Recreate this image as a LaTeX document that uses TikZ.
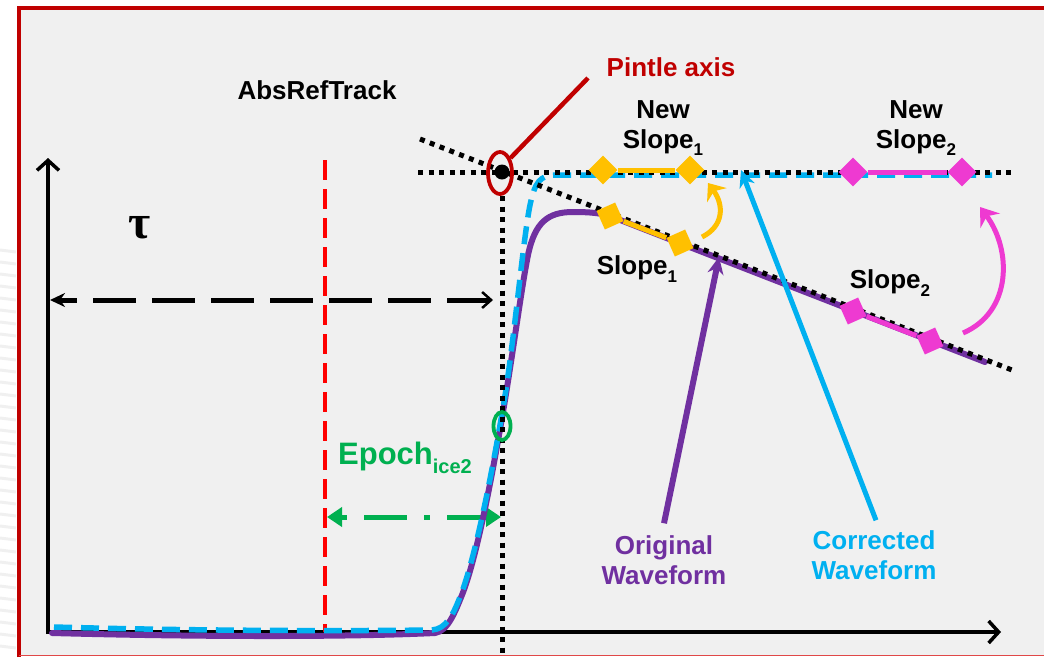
\documentclass[tikz,border=0pt]{standalone}
\usepackage{fontspec}
\setmainfont{Liberation Sans}
\newfontfamily\serifb{Liberation Serif}
\usetikzlibrary{arrows.meta,shapes.geometric}
\definecolor{framec}{HTML}{C00000}
\definecolor{bgc}{HTML}{F0F0F0}
\definecolor{purp}{HTML}{7030A0}
\definecolor{cblue}{HTML}{00B0F0}
\definecolor{orng}{HTML}{FFC000}
\definecolor{mag}{HTML}{EE3AD1}
\definecolor{grn}{HTML}{00B050}
\definecolor{redl}{HTML}{FF0000}
\definecolor{botred}{HTML}{E04848}
\newcommand{\sbs}[2][17]{\raisebox{-0.28em}{\fontsize{#1}{#1}\selectfont #2}}
\begin{document}
\begin{tikzpicture}[x=1pt,y=-1pt,
  lbl/.style={font=\fontsize{26}{30}\selectfont\bfseries, align=center, inner sep=0pt},
  dotl/.style={line width=5pt, dash pattern=on 5pt off 5.5pt},
  dia/.style={diamond, fill=#1, minimum width=29pt, minimum height=29pt, inner sep=0pt},
  axisarrow/.style={line width=4pt, -{Straight Barb[length=10pt,width=22pt,line width=3.5pt]}},
  conn/.style={line width=5pt},
]
\useasboundingbox (0,0) rectangle (1044,657);
% faint stripes outside frame
\foreach \yy in {250,262,...,650} {\draw[gray!12, line width=3pt] (0,\yy) -- (16,\yy+2);}
% frame
\fill[bgc] (19,8) rectangle (1044,655);
\draw[framec, line width=4.5pt] (19,657) -- (19,8) -- (1044,8);
\draw[botred, line width=1.5pt] (19,655.5) -- (1044,655.5);

% axes
\coordinate (O) at (48,632);
\coordinate (Ytop) at (48,158);
\coordinate (Xend) at (1001,632);
\coordinate (Ox) at (46,632);
\coordinate (Oy) at (48,634);
\draw[axisarrow] (Oy) -- (Ytop);
\draw[axisarrow] (Ox) -- (Xend);

% red dashed AbsRefTrack line
\coordinate (rt) at (325,160);
\coordinate (rb) at (325,632);
\draw[redl, line width=3.8pt, dash pattern=on 20pt off 9pt] (rt) -- (rb);

% tau arrow
\coordinate (tauL) at (50,300);
\coordinate (tauR) at (493,300);
\draw[line width=5pt, dash pattern=on 43pt off 16pt,
  {Straight Barb[length=9pt,width=16pt,line width=2.5pt]}-{Stealth[length=15pt,width=14pt]}] (tauR) -- (tauL);

% epoch arrow
\coordinate (epL) at (327,517);
\coordinate (epR) at (501,517);
\draw[grn, line width=5pt, dash pattern=on 6pt off 17pt on 43pt off 17pt,
  {Triangle[length=15pt,width=19pt]}-{Triangle[length=15pt,width=19pt]}] (epL) -- (epR);

% original waveform
\draw[purp, line width=6pt, line cap=round] (52,633) .. controls (200,637) and (350,637) .. (435,633)
  .. controls (448,631) and (455,612) .. (462,595)
  .. controls (478,555) and (495,460) .. (505,400)
  .. controls (514,345) and (522,285) .. (528,255)
  .. controls (535,222) and (548,212) .. (573,212)
  .. controls (590,212) and (600,213) .. (610,216) -- (985,362);
% corrected waveform
\draw[cblue, line width=5.5pt, dash pattern=on 18pt off 9pt] (54,627) .. controls (200,631) and (350,631) .. (432,630)
  .. controls (446,629) and (453,615) .. (460,597)
  .. controls (476,557) and (494,462) .. (504,402)
  .. controls (514,342) and (523,240) .. (530,205)
  .. controls (535,182) and (540,175) .. (556,175) -- (992,175);

% dotted reference lines
\coordinate (P) at (502,172);
\draw[dotl] (418,172) -- (1012,172);
\draw[dotl] (502,196) -- (502,657);
\draw[dotl] (420,139) -- (1012,370);

% pintle marker
\fill (P) circle (7.5);
\node[ellipse, draw=framec, line width=3.8pt, minimum width=24pt, minimum height=42pt, inner sep=0pt] (pring) at (500,173) {};
\node[lbl, text=framec] (pintle) at (671,67) {Pintle axis};
\coordinate (pinend) at (588,78);
\draw[framec, line width=4.5pt] (pring.55) -- (pinend);

% zero crossing marker
\node[ellipse, draw=grn, line width=3.8pt, minimum width=17pt, minimum height=28pt, inner sep=0pt] (zc) at (502,426) {};

% slope 1 (orange)
\node[dia=orng] (o1) at (603,170) {};
\node[dia=orng] (o2) at (690,170) {};
\node[dia=orng, rotate=-21] (o3) at (610,216) {};
\node[dia=orng, rotate=-21] (o4) at (680,243) {};
\draw[orng, conn] (o1) -- (o2);
\draw[orng, conn] (o3) -- (o4);
\coordinate (oa1) at (702,237);
\coordinate (oa2) at (708,183);
\draw[orng, line width=5pt, -{Stealth[length=15pt,width=24pt]}] (oa1) .. controls (724,226) and (724,205) .. (oa2);

% slope 2 (magenta)
\node[dia=mag] (m1) at (853,172) {};
\node[dia=mag] (m2) at (962,172) {};
\node[dia=mag, rotate=-21] (m3) at (853,311) {};
\node[dia=mag, rotate=-21] (m4) at (930,341) {};
\draw[mag, conn] (m1) -- (m2);
\draw[mag, conn] (m3) -- (m4);
\coordinate (ma1) at (963,333);
\coordinate (ma2) at (980,207);
\draw[mag, line width=5pt, -{Stealth[length=17pt,width=24pt]}] (ma1) .. controls (1012,312) and (1012,250) .. (ma2);

% labels
\node[lbl] (abs) at (317,90) {AbsRefTrack};
\node[lbl] (ns1) at (663,128) {New\\Slope\sbs{1}};
\node[lbl] (ns2) at (916,128) {New\\Slope\sbs{2}};
\node[lbl] (s1) at (637,269) {Slope\sbs{1}};
\node[lbl] (s2) at (890,283) {Slope\sbs{2}};
\node[inner sep=0pt, font=\serifb\fontsize{48}{48}\selectfont\bfseries] (tau) at (140,228) {τ};
\node[lbl, text=grn, font=\fontsize{31}{31}\selectfont\bfseries] (epoch) at (405,458) {Epoch\sbs[20]{ice2}};
\node[lbl, text=purp] (orig) at (664,560) {Original\\Waveform};
\node[lbl, text=cblue] (corr) at (874,555) {Corrected\\Waveform};

% pointers
\coordinate (origtip) at (719,257);
\coordinate (corrtip) at (741,170);
\draw[purp, line width=6pt, -{Stealth[length=17pt,width=16pt]}] (orig.north) ++(0,-12) coordinate (origstart) -- (origtip);
\draw[cblue, line width=5pt, -{Stealth[length=17pt,width=16pt]}] (corr.north) ++(2,-10) coordinate (corrstart) -- (corrtip);
\end{tikzpicture}
\end{document}
